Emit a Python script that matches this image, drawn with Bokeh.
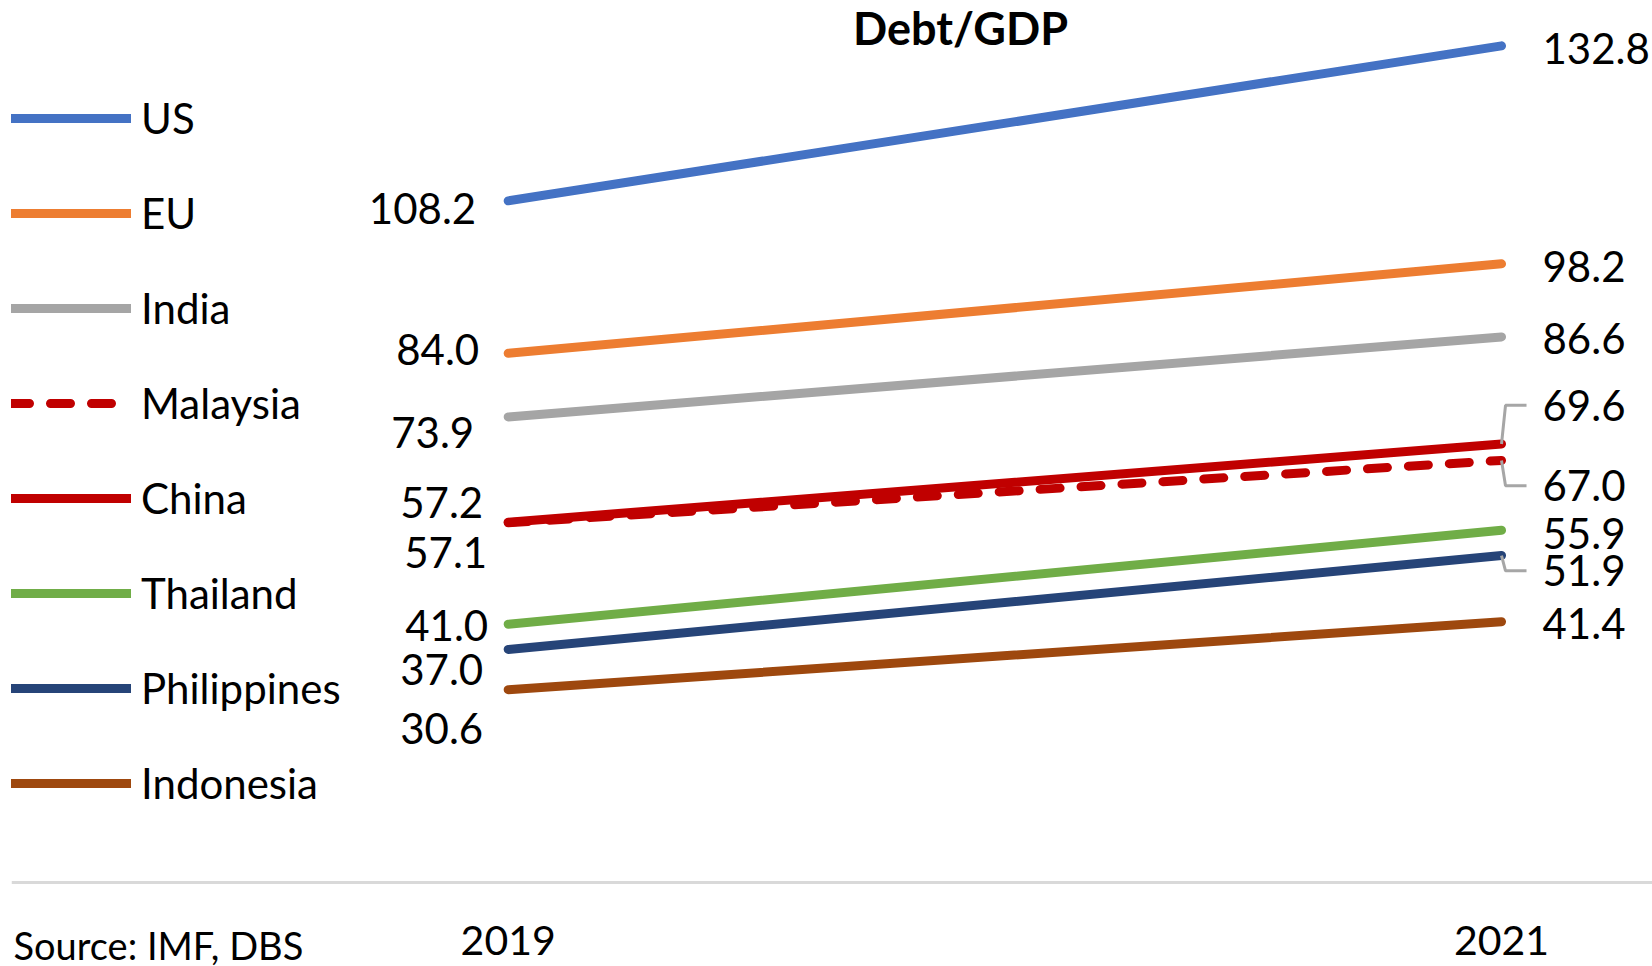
from bokeh.plotting import figure
from bokeh.models import Range1d, FixedTicker, Legend, LegendItem, Label, ColumnDataSource
from bokeh.core.properties import value
from bokeh.embed import file_html
from bokeh.resources import INLINE

# ---------------- data ----------------
years = ["2019", "2021"]
countries = ["US", "EU", "India", "Malaysia", "China", "Thailand", "Philippines", "Indonesia"]
debt_2019 = [108.2, 84.0, 73.9, 57.1, 57.2, 41.0, 37.0, 30.6]
debt_2021 = [132.8, 98.2, 86.6, 67.0, 69.6, 55.9, 51.9, 41.4]

# ---------------- styles ----------------
colors = ["#4472C4", "#ED7D31", "#A5A5A5", "#C00000", "#C00000", "#70AD47", "#264478", "#9E480E"]
dashes = ["solid", "solid", "solid", "20 21", "solid", "solid", "solid", "solid"]
# label placement offsets in screen pixels (dx right+, dy down+)
left_dx = [-32, -29, -34, -21, -25, -20, -25, -25]
left_dy = [7.5, -3.5, 16, 30, -20, 1.6, 20.4, 38.6]
right_dx = [41] * 8
right_dy = [3, 3, 2, 25.4, -38.7, 3.5, 15.3, 2]
leader = [False, False, False, True, True, False, True, False]

W, H = 1652, 966
BL = 11
AXIS_PX = 882            # pixel row of the value 0 (x axis line)
X0, X1 = -0.5, 1.152
ppx = (W - BL) / (X1 - X0)
ppy = 6.3
Y1 = AXIS_PX / ppy
Y0 = Y1 - H / ppy

FONT = "Lato"

p = figure(width=W, height=H, x_range=Range1d(X0, X1), y_range=Range1d(Y0, Y1),
           min_border_left=BL, min_border_right=0, min_border_top=0, min_border_bottom=0,
           toolbar_location=None, output_backend="svg", y_axis_location=None,
           outline_line_color=None, background_fill_color="white", border_fill_color="white")
p.xgrid.visible = False
p.ygrid.visible = False

xa = p.xaxis[0]
xa.fixed_location = 0
xa.ticker = FixedTicker(ticks=[0, 1])
xa.major_label_overrides = {0: years[0], 1: years[1]}
xa.axis_line_color = "#D9D9D9"
xa.axis_line_width = 3
xa.major_tick_line_color = None
xa.minor_tick_line_color = None
xa.major_tick_out = 0
xa.major_tick_in = 0
xa.major_label_standoff = 43
xa.major_label_text_font = FONT
xa.major_label_text_font_size = "41px"
xa.major_label_text_color = "black"

xs_pos = [0, 1]
renderers = []
for i, c in enumerate(countries):
    r = p.line(xs_pos, [debt_2019[i], debt_2021[i]], line_color=colors[i], line_width=9,
               line_cap="round", line_join="round", line_dash=dashes[i])
    renderers.append(r)

# leader lines
lx, ly = [], []
for i in range(len(countries)):
    if leader[i]:
        yl = debt_2021[i] - right_dy[i] / ppy
        lx.append([1, 1 + 4 / ppx, 1 + 25 / ppx])
        ly.append([debt_2021[i], yl, yl])
p.multi_line(lx, ly, line_color="#A6A6A6", line_width=3)

# data labels
left_src = ColumnDataSource(dict(
    x=[0 + d / ppx for d in left_dx],
    y=[v - d / ppy for v, d in zip(debt_2019, left_dy)],
    t=[f"{v:.1f}" for v in debt_2019]))
right_src = ColumnDataSource(dict(
    x=[1 + d / ppx for d in right_dx],
    y=[v - d / ppy for v, d in zip(debt_2021, right_dy)],
    t=[f"{v:.1f}" for v in debt_2021]))
p.text(x="x", y="y", text="t", source=left_src, text_align="right", text_baseline="middle",
       text_font=value(FONT), text_font_size=value("42px"), text_color="black")
p.text(x="x", y="y", text="t", source=right_src, text_align="left", text_baseline="middle",
       text_font=value(FONT), text_font_size=value("42px"), text_color="black")

# title
p.add_layout(Label(x=(960 - BL) / ppx + X0, y=Y1 - 27.5 / ppy, text="Debt/GDP",
                   text_align="center", text_baseline="middle", text_font=FONT,
                   text_font_style="bold", text_font_size="45px", text_color="black"))

# source note, bottom-left
p.add_layout(Label(x=(13 - BL) / ppx + X0, y=Y1 - 944 / ppy, text="Source: IMF, DBS",
                   text_align="left", text_baseline="alphabetic", text_font=FONT,
                   text_font_size="38px", text_color="black"))

legend = Legend(items=[LegendItem(label=c, renderers=[r]) for c, r in zip(countries, renderers)],
                location=(-2, H - AXIS_PX + 69), orientation="vertical", glyph_width=122,
                glyph_height=60, label_height=60, spacing=35, label_standoff=10, padding=0,
                margin=0, border_line_alpha=0, background_fill_alpha=0,
                label_text_font=FONT, label_text_font_size="42px", label_text_color="black")
p.add_layout(legend)

open("out.html", "w").write(file_html(p, INLINE))
